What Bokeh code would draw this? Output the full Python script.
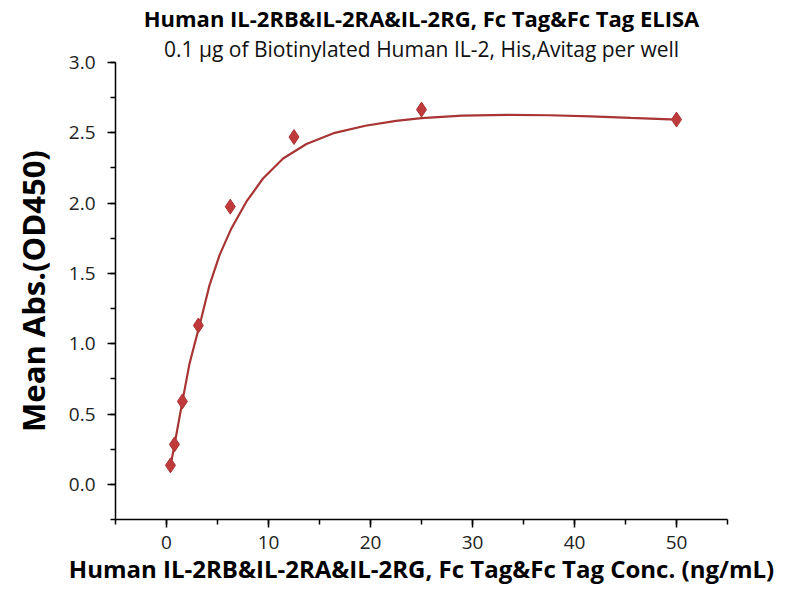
from bokeh.plotting import figure
from bokeh.models import Title, NumeralTickFormatter, Range1d, SingleIntervalTicker
from bokeh.embed import file_html
from bokeh.resources import INLINE

# measured points
conc = [0.39, 0.78, 1.56, 3.125, 6.25, 12.5, 25, 50]
od450 = [0.135, 0.284, 0.59, 1.13, 1.975, 2.47, 2.665, 2.594]

# fitted curve
curve_x = [0.39, 0.78, 1.56, 2.26, 3.41, 4.22, 5.2, 6.36, 7.83, 9.46, 11.43, 13.72, 16.5, 19.5,
           22.5, 25.0, 29.0, 33.4, 37.5, 41.6, 45.5, 50]
curve_y = [0.13, 0.28, 0.59, 0.86, 1.18, 1.417, 1.63, 1.82, 2.01, 2.175, 2.317, 2.42, 2.50, 2.55,
           2.585, 2.605, 2.622, 2.628, 2.625, 2.617, 2.606, 2.594]

title_text = "Human IL-2RB&IL-2RA&IL-2RG, Fc Tag&Fc Tag ELISA"
subtitle_text = "0.1 µg of Biotinylated Human IL-2, His,Avitag per well"
x_label = "Human IL-2RB&IL-2RA&IL-2RG, Fc Tag&Fc Tag Conc. (ng/mL)"
y_label = "Mean Abs.(OD450)"

FONT = "Open Sans"
RED = "#c0393b"
LINE = "#a83434"

p = figure(output_backend="svg", toolbar_location=None,
           frame_width=612, frame_height=457,
           min_border_left=115, min_border_top=56, min_border_right=57, min_border_bottom=60,
           x_range=Range1d(-5, 55), y_range=Range1d(-0.25, 3.0))
p.title = None
p.outline_line_color = None
p.grid.visible = False
p.background_fill_color = "white"
p.border_fill_color = "white"

p.line(curve_x, curve_y, line_color=LINE, line_width=2.2)
p.scatter(conc, od450, marker="diamond", size=15, fill_color=RED, line_color="#a83434", line_width=1)

for ax in (p.xaxis[0], p.yaxis[0]):
    ax.axis_line_color = "black"
    ax.axis_line_width = 1.5
    ax.major_tick_line_color = "black"
    ax.minor_tick_line_color = "black"
    ax.major_tick_line_width = 1.5
    ax.minor_tick_line_width = 1.5
    ax.major_tick_in = 0
    ax.major_tick_out = 8
    ax.minor_tick_in = 0
    ax.minor_tick_out = 5
    ax.major_label_text_font = FONT
    ax.major_label_text_font_size = "19px"
    ax.major_label_text_color = "#222222"
    ax.axis_label_text_font = FONT
    ax.axis_label_text_font_style = "bold"
    ax.axis_label_text_color = "black"

p.xaxis[0].axis_label_text_font_size = "24px"
p.yaxis[0].axis_label_text_font_size = "31px"
p.xaxis[0].ticker = SingleIntervalTicker(interval=10, num_minor_ticks=2)
p.yaxis[0].ticker = SingleIntervalTicker(interval=0.5, num_minor_ticks=2)
p.yaxis[0].formatter = NumeralTickFormatter(format="0.0")
p.xaxis[0].axis_label = x_label
p.yaxis[0].axis_label = y_label
p.xaxis[0].major_label_standoff = 8
p.yaxis[0].major_label_standoff = 12
p.xaxis[0].axis_label_standoff = 0
p.yaxis[0].axis_label_standoff = 12

p.add_layout(Title(text=subtitle_text, align="center", text_font=FONT, text_font_size="21px",
                   text_font_style="normal", text_color="#111111", standoff=0), "above")
p.add_layout(Title(text=title_text, align="center", text_font=FONT, text_font_size="22px",
                   text_font_style="bold", text_color="black", standoff=0), "above")

open("out.html", "w").write(file_html(p, INLINE))
